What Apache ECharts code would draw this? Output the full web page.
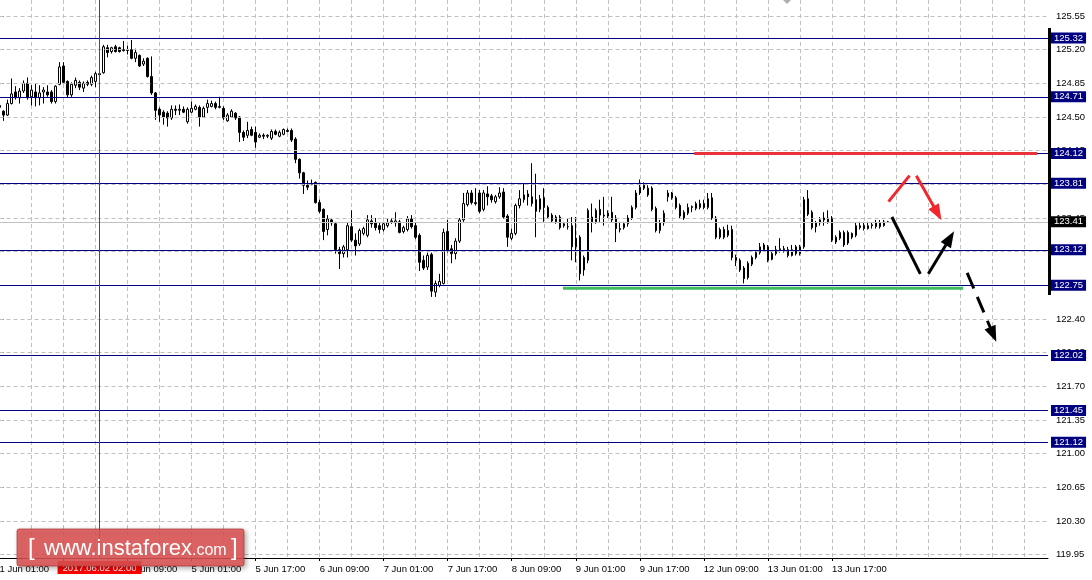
<!DOCTYPE html>
<html>
<head>
<meta charset="utf-8">
<script src="https://cdn.jsdelivr.net/npm/echarts@6/dist/echarts.min.js"></script>
<style>html,body{margin:0;padding:0;background:#fff}#c{width:1092px;height:580px}</style>
</head>
<body>
<div id="c"></div>
<script>
// ---- time axis (H1 bars, weekend gaps removed), a label every 16 bars
const timeLabels = ['1 Jun 01:00','1 Jun 17:00','2 Jun 09:00','5 Jun 01:00','5 Jun 17:00','6 Jun 09:00','7 Jun 01:00','7 Jun 17:00','8 Jun 09:00','9 Jun 01:00','9 Jun 17:00','12 Jun 09:00','13 Jun 01:00','13 Jun 17:00'];
const slotCount = 263;              // bar slots on the time axis (incl. right shift)
const crossIndex = 25;              // crosshair bar
const crossLabel = '2017.06.02 02:00';

// ---- price axis
const priceTicks = [119.95,120.30,120.65,121.00,121.35,121.70,122.05,122.40,122.75,123.10,123.45,123.80,124.15,124.50,124.85,125.20,125.55];
const priceMin = 119.916, priceMax = 125.716;
const levels = [125.32,124.71,124.12,123.81,123.12,122.75,122.02,121.45,121.12];
const bid = 123.41;

// ---- candles [open, close, low, high]
const ohlc = [
[124.60,124.62,124.56,124.66],[124.56,124.52,124.46,124.57],[124.52,124.64,124.51,124.68],[124.64,124.74,124.63,124.90],
[124.76,124.70,124.68,124.82],[124.70,124.77,124.64,124.80],[124.77,124.85,124.75,124.88],[124.85,124.70,124.68,124.91],
[124.71,124.78,124.62,124.83],[124.76,124.70,124.61,124.85],[124.70,124.75,124.62,124.83],[124.76,124.78,124.64,124.81],
[124.76,124.73,124.71,124.83],[124.76,124.66,124.64,124.78],[124.66,124.82,124.64,124.83],[124.84,125.02,124.83,125.07],
[125.03,124.86,124.85,125.07],[124.87,124.73,124.70,124.88],[124.73,124.84,124.71,124.86],[124.83,124.88,124.80,124.91],
[124.86,124.81,124.78,124.88],[124.80,124.85,124.76,124.87],[124.86,124.84,124.82,124.88],[124.84,124.91,124.82,124.93],
[124.87,124.95,124.81,124.97],[124.95,124.94,124.93,124.96],[124.96,125.23,124.95,125.25],[125.22,125.17,125.12,125.25],
[125.18,125.22,125.16,125.23],[125.23,125.18,125.17,125.25],[125.22,125.18,125.17,125.23],[125.20,125.19,125.18,125.29],
[125.19,125.20,125.15,125.24],[125.20,125.11,125.10,125.30],[125.11,125.17,125.07,125.21],[125.14,125.03,125.02,125.15],
[125.05,125.08,125.03,125.11],[125.11,124.92,124.91,125.12],[124.92,124.75,124.73,125.13],[124.75,124.57,124.47,124.76],
[124.58,124.52,124.45,124.60],[124.55,124.50,124.42,124.57],[124.54,124.49,124.40,124.56],[124.49,124.58,124.47,124.62],
[124.58,124.57,124.52,124.62],[124.57,124.58,124.52,124.63],[124.58,124.55,124.54,124.61],[124.45,124.58,124.43,124.60],
[124.55,124.59,124.54,124.66],[124.58,124.61,124.57,124.63],[124.60,124.50,124.40,124.62],[124.50,124.59,124.49,124.61],
[124.60,124.64,124.54,124.68],[124.61,124.64,124.60,124.67],[124.64,124.60,124.58,124.66],[124.60,124.61,124.59,124.71],
[124.59,124.49,124.47,124.61],[124.46,124.52,124.45,124.54],[124.50,124.56,124.49,124.58],[124.54,124.49,124.47,124.55],
[124.50,124.34,124.24,124.51],[124.34,124.29,124.25,124.36],[124.31,124.36,124.28,124.45],[124.37,124.31,124.30,124.40],
[124.34,124.24,124.18,124.40],[124.29,124.31,124.28,124.33],[124.31,124.30,124.27,124.33],[124.30,124.31,124.28,124.32],
[124.28,124.35,124.26,124.37],[124.35,124.32,124.31,124.37],[124.30,124.34,124.29,124.36],[124.32,124.37,124.31,124.38],
[124.36,124.35,124.34,124.38],[124.36,124.26,124.24,124.38],[124.27,124.06,124.02,124.29],[124.06,123.92,123.86,124.07],
[123.92,123.79,123.70,123.93],[123.79,123.77,123.74,123.84],[123.80,123.81,123.79,123.85],[123.82,123.61,123.60,123.83],
[123.61,123.52,123.50,123.64],[123.54,123.31,123.22,123.55],[123.33,123.44,123.27,123.48],[123.43,123.40,123.37,123.45],
[123.39,123.12,123.08,123.41],[123.12,123.08,122.92,123.15],[123.08,123.15,123.04,123.17],[123.12,123.37,123.04,123.40],
[123.36,123.22,123.20,123.53],[123.22,123.16,123.06,123.29],[123.18,123.32,123.16,123.34],[123.29,123.34,123.27,123.36],
[123.27,123.43,123.25,123.48],[123.42,123.39,123.35,123.48],[123.40,123.35,123.32,123.45],[123.37,123.33,123.29,123.40],
[123.33,123.39,123.31,123.41],[123.37,123.40,123.35,123.45],[123.41,123.42,123.39,123.45],[123.40,123.42,123.36,123.51],
[123.41,123.30,123.29,123.43],[123.31,123.35,123.29,123.37],[123.33,123.44,123.31,123.47],[123.44,123.36,123.34,123.48],
[123.37,123.25,123.23,123.40],[123.27,122.99,122.90,123.29],[123.01,122.93,122.91,123.06],[122.94,123.06,122.91,123.09],
[123.07,122.69,122.63,123.09],[122.68,122.77,122.63,122.80],[122.75,122.79,122.73,122.87],[122.77,123.30,122.76,123.34],
[123.31,123.11,123.09,123.43],[123.13,123.08,122.98,123.17],[123.08,123.21,123.02,123.24],[123.21,123.43,123.19,123.45],
[123.43,123.60,123.41,123.71],[123.59,123.71,123.57,123.74],[123.71,123.61,123.59,123.74],[123.61,123.60,123.58,123.76],
[123.71,123.52,123.50,123.74],[123.54,123.71,123.52,123.74],[123.70,123.67,123.58,123.78],[123.68,123.64,123.61,123.70],
[123.62,123.67,123.60,123.69],[123.67,123.71,123.65,123.77],[123.72,123.46,123.44,123.76],[123.47,123.25,123.15,123.49],
[123.24,123.29,123.22,123.34],[123.29,123.58,123.27,123.60],[123.58,123.65,123.55,123.74],[123.64,123.69,123.61,123.81],
[123.70,123.67,123.58,123.74],[123.67,123.60,123.57,124.02],[123.64,123.52,123.25,123.91],[123.54,123.65,123.51,123.69],
[123.66,123.56,123.41,123.76],[123.56,123.46,123.44,123.58],[123.48,123.42,123.40,123.50],[123.41,123.46,123.39,123.48],
[123.46,123.35,123.33,123.48],[123.37,123.39,123.35,123.41],[123.36,123.36,123.33,123.45],[123.37,123.15,123.01,123.46],
[123.15,123.24,122.99,123.46],[123.25,122.87,122.80,123.27],[122.91,123.04,122.85,123.06],[123.01,123.53,122.98,123.55],
[123.46,123.41,123.30,123.60],[123.41,123.53,123.39,123.55],[123.54,123.48,123.41,123.64],[123.48,123.47,123.37,123.67],
[123.47,123.50,123.45,123.53],[123.51,123.43,123.40,123.67],[123.45,123.34,123.20,123.48],[123.34,123.33,123.30,123.41],
[123.35,123.39,123.33,123.41],[123.39,123.45,123.36,123.48],[123.45,123.56,123.43,123.58],[123.56,123.71,123.54,123.74],
[123.71,123.77,123.69,123.85],[123.79,123.76,123.74,123.82],[123.76,123.69,123.67,123.79],[123.76,123.54,123.52,123.78],
[123.55,123.32,123.30,123.57],[123.32,123.40,123.29,123.43],[123.40,123.50,123.37,123.53],[123.67,123.71,123.62,123.74],
[123.71,123.66,123.64,123.72],[123.66,123.56,123.54,123.68],[123.58,123.47,123.45,123.60],[123.45,123.51,123.43,123.53],
[123.50,123.56,123.48,123.60],[123.56,123.57,123.51,123.58],[123.55,123.60,123.53,123.62],[123.56,123.60,123.54,123.64],
[123.60,123.56,123.54,123.64],[123.56,123.65,123.54,123.71],[123.66,123.45,123.43,123.71],[123.45,123.25,123.23,123.47],
[123.25,123.33,123.23,123.35],[123.33,123.25,123.23,123.36],[123.27,123.32,123.25,123.38],[123.33,123.04,123.01,123.37],
[123.04,123.01,122.95,123.07],[123.01,122.91,122.89,123.03],[122.93,122.82,122.77,122.95],[122.83,122.98,122.81,123.00],
[122.97,123.04,122.95,123.06],[123.04,123.09,123.02,123.11],[123.09,123.15,123.07,123.19],[123.12,123.17,123.10,123.19],
[123.15,123.01,122.99,123.17],[123.02,123.08,123.01,123.11],[123.08,123.12,123.06,123.16],[123.12,123.13,123.09,123.24],
[123.13,123.12,123.09,123.16],[123.12,123.06,123.04,123.15],[123.06,123.12,123.05,123.17],[123.15,123.08,123.06,123.17],
[123.08,123.15,123.06,123.17],[123.15,123.64,123.13,123.67],[123.65,123.49,123.47,123.74],[123.51,123.35,123.33,123.53],
[123.40,123.36,123.30,123.42],[123.40,123.43,123.37,123.46],[123.45,123.43,123.37,123.51],[123.45,123.41,123.39,123.53],
[123.45,123.22,123.20,123.47],[123.20,123.25,123.18,123.27],[123.24,123.30,123.22,123.32],[123.30,123.17,123.15,123.32],
[123.30,123.19,123.17,123.32],[123.25,123.29,123.23,123.30],[123.27,123.37,123.25,123.40],[123.35,123.37,123.33,123.41],
[123.37,123.34,123.32,123.41],[123.34,123.37,123.33,123.41],[123.37,123.38,123.34,123.40],[123.36,123.40,123.34,123.43],
[123.40,123.36,123.34,123.43],[123.37,123.41,123.36,123.43],[123.41,123.41,123.40,123.42]
];

// ---- drawn analysis objects, in [bar index, price]
const resistanceSeg = [[173.6,124.12],[259.3,124.12]];
const supportSeg    = [[140.8,122.72],[240.8,122.72]];
const redUp    = [[222.15,123.62],[227.4,123.89]];
const redDown  = [[229.1,123.89],[234.4,123.50]];
const blackDown= [[223.0,123.46],[230.1,122.87]];
const blackUp  = [[232.1,122.87],[237.5,123.24]];
const blackDash= [[241.8,122.88],[248.3,122.24]];

const F = "'Liberation Sans',Arial,sans-serif";
const FS = 9.5;
const cats = Array.from({length: slotCount}, (_, i) => String(i));
const NAVY = '#000080';

function seg(pts, color, arrow, dashed) {
  return [
    {coord: pts[0], symbol: 'none'},
    {coord: pts[1], symbol: arrow ? 'triangle' : 'none', symbolSize: arrow ? [12, 16] : 0,
     lineStyle: {color: color, width: 3, type: dashed ? [17, 9] : 'solid'}}
  ];
}

const chart = echarts.init(document.getElementById('c'), null, {renderer: 'canvas', width: 1092, height: 580});
const showLabel = i => i % 16 === 0 && i / 16 < timeLabels.length;

chart.setOption({
  animation: false,
  backgroundColor: '#ffffff',
  grid: {left: -0.5, top: 0, right: 44, bottom: 22, containLabel: false, outerBoundsMode: 'none'},
  xAxis: [
    {type: 'category', data: cats, boundaryGap: false,
     axisLine: {show: true, onZero: false, lineStyle: {color: '#000', width: 1}},
     axisTick: {show: true, interval: showLabel, length: 3, lineStyle: {color: '#000'}},
     axisLabel: {show: true, interval: showLabel, formatter: (v, i) => timeLabels[i / 16], align: 'left',
                 color: '#000', fontSize: FS, fontFamily: F, margin: 6},
     splitLine: {show: true, interval: i => i % 8 === 0 && i > 0, lineStyle: {color: '#c0c0c0', type: [4, 3], width: 1}}},
    {type: 'value', min: 0, max: slotCount - 1, show: false}
  ],
  yAxis: [
    {type: 'value', position: 'right', min: priceMin, max: priceMax,
     axisLine: {show: true, lineStyle: {color: '#000', width: 1}},
     axisTick: {show: true, customValues: priceTicks, length: 4, lineStyle: {color: '#000'}},
     axisLabel: {show: true, customValues: priceTicks, formatter: v => v.toFixed(2), color: '#000',
                 fontSize: FS, fontFamily: F, margin: 8},
     splitLine: {show: false}}
  ],
  graphic: [
    {type: 'rect', shape: {x: 1048, y: 28, width: 3, height: 267}, style: {fill: '#000'}, z: 50, silent: true},
    {type: 'polygon', shape: {points: [[783, 0], [791, 0], [787, 4]]}, style: {fill: '#b0b0b0'}, z: 50, silent: true},
    {type: 'rect', shape: {x: 17, y: 529, width: 227, height: 37, r: 2},
     style: {fill: 'rgba(224,84,84,0.85)', stroke: 'rgba(180,50,50,0.7)', lineWidth: 1,
             shadowBlur: 5, shadowColor: 'rgba(0,0,0,0.35)', shadowOffsetX: 2, shadowOffsetY: 2}, z: 100, silent: true},
    {type: 'text', x: 28, y: 548, style: {text: '[', fill: '#fff', font: '24px "Liberation Sans"', verticalAlign: 'middle'}, z: 101, silent: true},
    {type: 'text', x: 44, y: 549, style: {text: 'www.instaforex', fill: '#fff', font: '22px "Liberation Sans"', verticalAlign: 'middle'}, z: 101, silent: true},
    {type: 'text', x: 192, y: 551, style: {text: '.com', fill: '#fff', font: '16px "Liberation Sans"', verticalAlign: 'middle'}, z: 101, silent: true},
    {type: 'text', x: 231, y: 548, style: {text: ']', fill: '#fff', font: '24px "Liberation Sans"', verticalAlign: 'middle'}, z: 101, silent: true}
  ],
  series: [
    {type: 'line', name: 'grid', xAxisIndex: 1, yAxisIndex: 0, data: [], z: 1, silent: true,
     markLine: {silent: true, symbol: 'none', animation: false, label: {show: false},
       lineStyle: {color: '#c0c0c0', type: [4, 3], width: 1},
       data: priceTicks.map(v => ({yAxis: v}))}},
    {type: 'candlestick', xAxisIndex: 0, yAxisIndex: 0, data: ohlc, barWidth: 2, z: 3, silent: true,
     itemStyle: {color: '#ffffff', color0: '#000000', borderColor: '#000000', borderColor0: '#000000', borderColorDoji: '#000000', borderWidth: 1}},
    {type: 'line', name: 'levels', xAxisIndex: 1, yAxisIndex: 0, data: [], z: 4, silent: true,
     markLine: {silent: true, symbol: 'none', animation: false,
       data: [
         ...levels.map(v => ({yAxis: v, lineStyle: {color: NAVY, width: 1, type: 'solid'},
           label: {show: true, position: 'end', distance: 3, formatter: () => v.toFixed(2), color: '#fff',
                   backgroundColor: NAVY, padding: [1, 3, 0, 3], fontSize: FS, fontFamily: F}})),
         {yAxis: bid, lineStyle: {color: '#c0c0c0', width: 1, type: 'solid'},
          label: {show: true, position: 'end', distance: 3, formatter: () => bid.toFixed(2), color: '#fff',
                  backgroundColor: '#000', padding: [1, 3, 0, 3], fontSize: FS, fontFamily: F}},
         {xAxis: crossIndex, lineStyle: {color: '#ff0000', width: 1, type: 'solid'},
          label: {show: true, position: 'start', distance: 3, formatter: crossLabel, color: '#fff',
                  backgroundColor: '#ff0000', padding: [2, 5, 1, 5], fontSize: FS, fontFamily: F}}
       ]}},
    {type: 'line', name: 'resistance', xAxisIndex: 1, yAxisIndex: 0, data: resistanceSeg, z: 5, silent: true,
     symbol: 'none', lineStyle: {color: '#e8333b', width: 3}},
    {type: 'line', name: 'support', xAxisIndex: 1, yAxisIndex: 0, data: supportSeg, z: 5, silent: true,
     symbol: 'none', lineStyle: {color: '#3dbb5f', width: 3}},
    {type: 'line', name: 'arrows', xAxisIndex: 1, yAxisIndex: 0, data: [], z: 6, silent: true,
     markLine: {silent: true, animation: false, symbol: ['none', 'none'], label: {show: false},
       lineStyle: {width: 3},
       data: [
         seg(redUp, '#f0282d', false),
         seg(redDown, '#f0282d', true),
         seg(blackDown, '#000', false),
         seg(blackUp, '#000', true),
         seg(blackDash, '#000', true, true)
       ]}}
  ]
});
</script>
</body>
</html>
